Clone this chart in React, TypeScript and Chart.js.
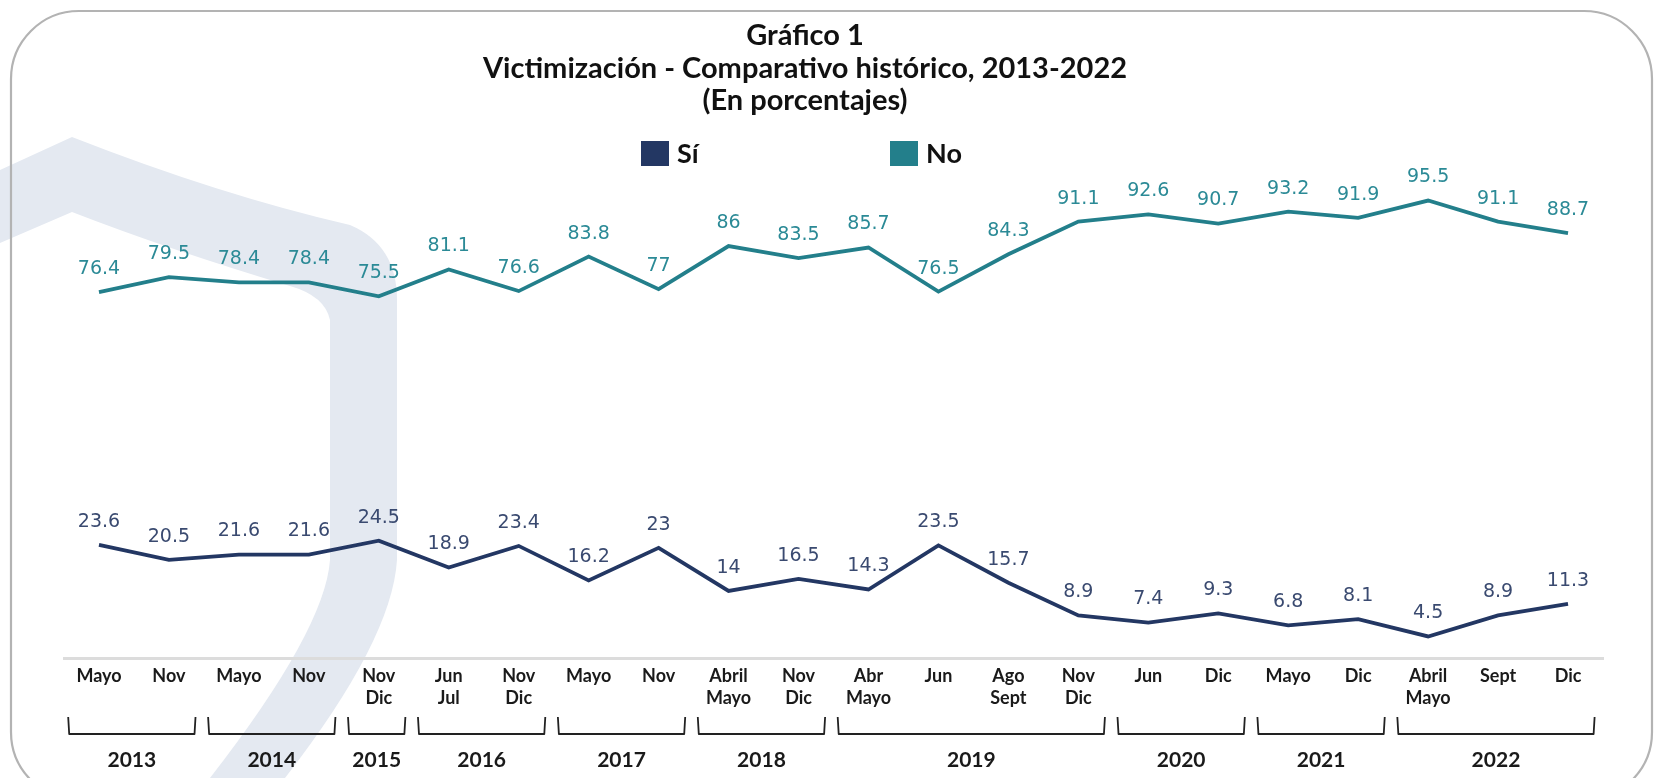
import React, { useEffect, useRef } from "react";
import { Chart, registerables } from "chart.js";

Chart.register(...registerables);

// ---------- Data ----------
const periodLabels: (string | string[])[] = [
  "Mayo", "Nov", "Mayo", "Nov", ["Nov", "Dic"], ["Jun", "Jul"], ["Nov", "Dic"],
  "Mayo", "Nov", ["Abril", "Mayo"], ["Nov", "Dic"], ["Abr", "Mayo"], "Jun",
  ["Ago", "Sept"], ["Nov", "Dic"], "Jun", "Dic", "Mayo", "Dic", ["Abril", "Mayo"],
  "Sept", "Dic",
];
const siValues = [23.6, 20.5, 21.6, 21.6, 24.5, 18.9, 23.4, 16.2, 23, 14, 16.5, 14.3, 23.5, 15.7, 8.9, 7.4, 9.3, 6.8, 8.1, 4.5, 8.9, 11.3];
const noValues = [76.4, 79.5, 78.4, 78.4, 75.5, 81.1, 76.6, 83.8, 77, 86, 83.5, 85.7, 76.5, 84.3, 91.1, 92.6, 90.7, 93.2, 91.9, 95.5, 91.1, 88.7];
const yearLabels = ["2013", "2014", "2015", "2016", "2017", "2018", "2019", "2020", "2021", "2022"];
const yearGroupSizes = [2, 2, 1, 2, 2, 2, 4, 2, 2, 3];
const seriesNames = ["Sí", "No"];
const titleLines = ["Gráfico 1", "Victimización - Comparativo histórico, 2013-2022", "(En porcentajes)"];

const SI_COLOR = "#233763";
const NO_COLOR = "#237f8b";
const SI_LABEL_COLOR = "#3a4a70";
const NO_LABEL_COLOR = "#2b8a96";

const W = 1657;
const H = 778;

const backgroundPlugin = {
  id: "bgDecor",
  beforeDraw(chart: any) {
    const ctx = chart.ctx;
    ctx.save();
    ctx.fillStyle = "#ffffff";
    ctx.fillRect(0, 0, W, H);
    // decorative watermark
    ctx.fillStyle = "#e4e9f1";
    ctx.beginPath();
    ctx.moveTo(0, 170);
    ctx.lineTo(72, 137);
    ctx.quadraticCurveTo(220, 195, 350, 225);
    ctx.quadraticCurveTo(397, 245, 397, 300);
    ctx.lineTo(397, 560);
    ctx.quadraticCurveTo(392, 640, 285, 778);
    ctx.lineTo(210, 778);
    ctx.quadraticCurveTo(325, 630, 330, 560);
    ctx.lineTo(330, 320);
    ctx.quadraticCurveTo(325, 296, 290, 286);
    ctx.quadraticCurveTo(170, 250, 72, 212);
    ctx.lineTo(0, 243);
    ctx.closePath();
    ctx.fill();
    // rounded frame
    ctx.strokeStyle = "#b3b3b3";
    ctx.lineWidth = 2.2;
    const x0 = 11, y0 = 11, x1 = 1652, y1 = 800, r = 68;
    ctx.beginPath();
    ctx.moveTo(x0 + r, y0);
    ctx.lineTo(x1 - r, y0);
    ctx.arcTo(x1, y0, x1, y0 + r, r);
    ctx.lineTo(x1, y1 - r);
    ctx.arcTo(x1, y1, x1 - r, y1, r);
    ctx.lineTo(x0 + r, y1);
    ctx.arcTo(x0, y1, x0, y1 - r, r);
    ctx.lineTo(x0, y0 + r);
    ctx.arcTo(x0, y0, x0 + r, y0, r);
    ctx.closePath();
    ctx.stroke();
    ctx.restore();
  },
};

const titleLegendPlugin = {
  id: "titleLegend",
  afterDraw(chart: any) {
    const ctx = chart.ctx;
    ctx.save();
    ctx.fillStyle = "#111111";
    ctx.font = "bold 29px Lato";
    ctx.textAlign = "center";
    ctx.textBaseline = "middle";
    const ys = [36, 69, 101];
    titleLines.forEach((t, i) => ctx.fillText(t, 805, ys[i]));
    // legend
    const boxX = [641, 890];
    ctx.font = "bold 27px Lato";
    ctx.textAlign = "left";
    chart.data.datasets.forEach((ds: any, i: number) => {
      ctx.fillStyle = ds.borderColor;
      ctx.fillRect(boxX[i], 141, 28, 25);
      ctx.fillStyle = "#111111";
      ctx.fillText(ds.label, boxX[i] + 36, 154);
    });
    ctx.restore();
  },
};

const dataLabelPlugin = {
  id: "pointLabels",
  afterDatasetsDraw(chart: any) {
    const ctx = chart.ctx;
    ctx.save();
    ctx.font = "19px 'DejaVu Sans'";
    ctx.textAlign = "center";
    ctx.textBaseline = "middle";
    chart.data.datasets.forEach((ds: any, i: number) => {
      const meta = chart.getDatasetMeta(i);
      ctx.fillStyle = i === 0 ? SI_LABEL_COLOR : NO_LABEL_COLOR;
      meta.data.forEach((pt: any, j: number) => {
        ctx.fillText(String(ds.data[j]), pt.x, pt.y - 23);
      });
    });
    ctx.restore();
  },
};

const bracketPlugin = {
  id: "yearBrackets",
  afterDraw(chart: any) {
    const ctx = chart.ctx;
    const xs = chart.scales.x;
    const sp = xs.getPixelForValue(1) - xs.getPixelForValue(0);
    ctx.save();
    ctx.strokeStyle = "#222222";
    ctx.lineWidth = 1.8;
    ctx.lineJoin = "round";
    ctx.fillStyle = "#1a1a1a";
    ctx.font = "bold 21px Lato";
    ctx.textAlign = "center";
    ctx.textBaseline = "middle";
    let idx = 0;
    yearGroupSizes.forEach((n, g) => {
      const left = xs.getPixelForValue(idx) - sp * 0.44;
      const right = xs.getPixelForValue(idx + n - 1) + sp * 0.38;
      ctx.beginPath();
      ctx.moveTo(left, 717);
      ctx.lineTo(left + 1, 734);
      ctx.lineTo(right - 1, 734);
      ctx.lineTo(right, 717);
      ctx.stroke();
      ctx.fillText(yearLabels[g], (left + right) / 2, 760);
      idx += n;
    });
    ctx.restore();
  },
};

export default function App() {
  const ref = useRef<HTMLCanvasElement | null>(null);
  useEffect(() => {
    if (!ref.current) return;
    const chart = new Chart(ref.current, {
      type: "line",
      data: {
        labels: periodLabels,
        datasets: [
          {
            label: seriesNames[0],
            data: siValues,
            borderColor: SI_COLOR,
            backgroundColor: SI_COLOR,
            borderWidth: 3.8,
            pointRadius: 0,
            tension: 0,
          },
          {
            label: seriesNames[1],
            data: noValues,
            borderColor: NO_COLOR,
            backgroundColor: NO_COLOR,
            borderWidth: 3.8,
            pointRadius: 0,
            tension: 0,
          },
        ],
      },
      options: {
        responsive: false,
        animation: false,
        layout: { padding: { left: 64, right: 54, top: 179, bottom: 0 } },
        plugins: {
          legend: { display: false },
          title: { display: false },
          tooltip: { enabled: false },
        },
        scales: {
          y: { display: false, min: 0, max: 100 },
          x: {
            offset: true,
            grid: { display: false, drawTicks: false },
            border: { display: true, color: "#dcdcdc", width: 3 },
            ticks: {
              autoSkip: false,
              maxRotation: 0,
              padding: 7,
              color: "#1a1a1a",
              font: { family: "Lato", weight: "bold", size: 18, lineHeight: 1.23 },
            },
            afterFit: (scale: any) => {
              scale.height = 120;
            },
          },
        },
      },
      plugins: [backgroundPlugin, dataLabelPlugin, bracketPlugin, titleLegendPlugin],
    });
    return () => chart.destroy();
  }, []);
  return (
    <div style={{ position: "fixed", left: 0, top: 0, width: W, height: H, background: "#fff" }}>
      <canvas ref={ref} width={W} height={H} style={{ display: "block" }} />
    </div>
  );
}
